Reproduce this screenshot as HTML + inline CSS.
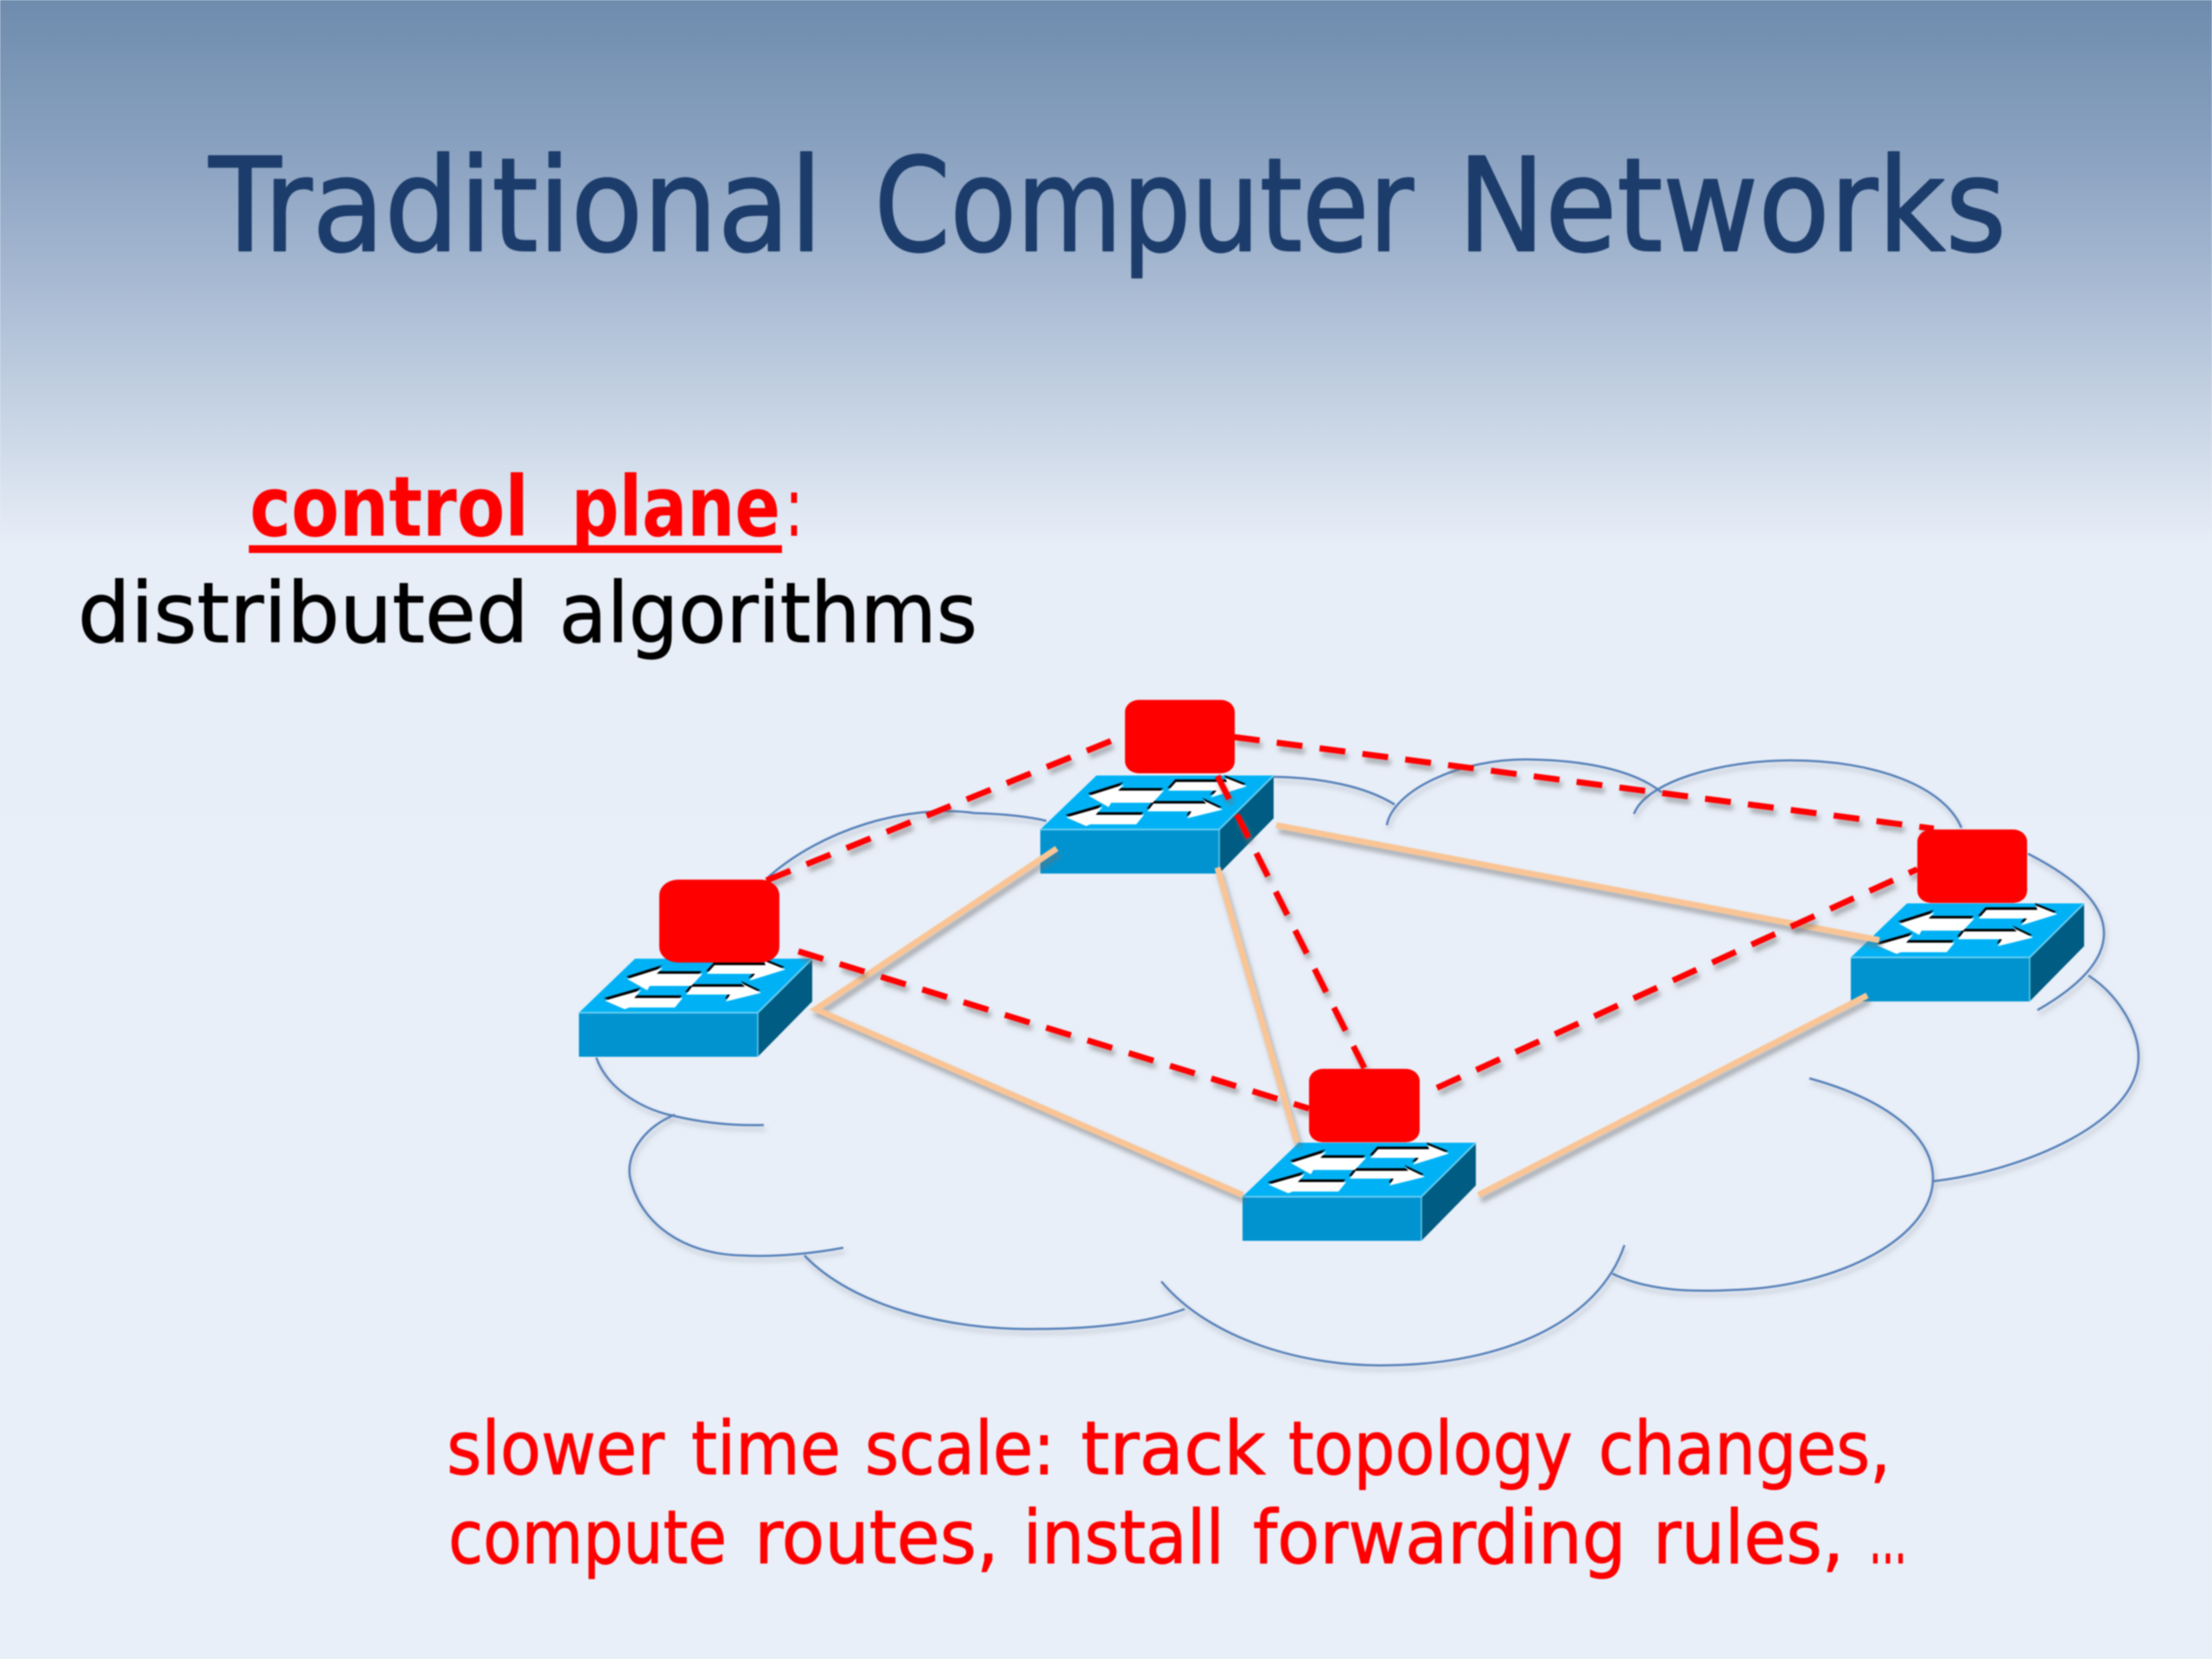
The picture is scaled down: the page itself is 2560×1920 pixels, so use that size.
<!DOCTYPE html>
<html>
<head>
<meta charset="utf-8">
<title>Traditional Computer Networks</title>
<style>
html,body{margin:0;padding:0;background:#e9eff8;}
svg{display:block;filter:blur(0.7px);}
text{font-family:"DejaVu Sans","Liberation Sans",sans-serif;stroke-linejoin:round;}
.t{font-size:150px;fill:#1c3c6b;stroke:#1c3c6b;stroke-width:2;}
.b{font-size:96px;fill:#000;stroke:#000;stroke-width:1;}
.c{font-size:96px;font-weight:bold;fill:#ff0000;}
.r{font-size:86px;fill:#ff0000;stroke:#ff0000;stroke-width:1;}
</style>
</head>
<body>
<svg xmlns="http://www.w3.org/2000/svg" width="2560" height="1920" viewBox="0 0 2560 1920">
<defs>
<linearGradient id="bg" x1="0" y1="0" x2="0" y2="1920" gradientUnits="userSpaceOnUse">
<stop offset="0" stop-color="#6e8bad"/>
<stop offset="0.104" stop-color="#8ea5c3"/>
<stop offset="0.182" stop-color="#acbdd5"/>
<stop offset="0.26" stop-color="#cbd7e6"/>
<stop offset="0.33" stop-color="#e8eef8"/>
<stop offset="1" stop-color="#e9eff8"/>
</linearGradient>
<filter id="shc" x="-10%" y="-10%" width="120%" height="120%"><feDropShadow dx="2" dy="5" stdDeviation="3" flood-color="#6b7480" flood-opacity="0.4"/></filter>
<filter id="shl" x="-10%" y="-10%" width="120%" height="120%"><feDropShadow dx="3" dy="6" stdDeviation="3" flood-color="#707070" flood-opacity="0.55"/></filter>
<g id="sw">
<polygon points="0,0 65,-62.5 270,-62.5 207,0" fill="#00b2f5"/>
<polygon points="0,0 207,0 207,51 0,51" fill="#0093d0"/>
<polygon points="207,0 270,-62.5 270,-13 207,51" fill="#005c82"/>
<polyline points="0,0 207,0 270,-62.5" fill="none" stroke="#66cdf2" stroke-width="2"/>
<polyline points="207,0 207,51" fill="none" stroke="#66cdf2" stroke-width="1.5"/>
<g fill="#000" transform="translate(-1,-3)">
<polygon points="56,-39 97,-52 90,-45 143,-45 130,-31 82,-31 79,-26"/>
<polygon points="157,-55 216,-55 214,-60 239,-50 197,-37 204,-45 148,-45"/>
<polygon points="30,-14 72,-26 64,-17 120,-17 111,-6 58,-6 53,-4"/>
<polygon points="131,-30 192,-30 188,-34 211,-23 170,-13 175,-21 124,-21"/>
</g>
<g fill="#fff">
<polygon points="56,-39 97,-52 90,-45 143,-45 130,-31 82,-31 79,-26"/>
<polygon points="157,-55 216,-55 214,-60 239,-50 197,-37 204,-45 148,-45"/>
<polygon points="30,-14 72,-26 64,-17 120,-17 111,-6 58,-6 53,-4"/>
<polygon points="131,-30 192,-30 188,-34 211,-23 170,-13 175,-21 124,-21"/>
</g>
</g>
</defs>
<rect width="2560" height="1920" fill="url(#bg)"/>

<text class="t" x="242" y="290" textLength="710" lengthAdjust="spacingAndGlyphs">Traditional</text>
<text class="t" x="1012" y="290" textLength="624" lengthAdjust="spacingAndGlyphs">Computer</text>
<text class="t" x="1687" y="290" textLength="635" lengthAdjust="spacingAndGlyphs">Networks</text>

<text class="c" x="289" y="620" textLength="323" lengthAdjust="spacingAndGlyphs">control</text>
<text class="c" x="661" y="620" textLength="242" lengthAdjust="spacingAndGlyphs">plane</text>
<text x="908" y="620" font-size="96" fill="#ff0000" textLength="22" lengthAdjust="spacingAndGlyphs">:</text>
<rect x="288" y="631" width="617" height="9" fill="#ff0000"/>
<text class="b" x="90" y="743" textLength="522" lengthAdjust="spacingAndGlyphs">distributed</text>
<text class="b" x="647" y="743" textLength="484" lengthAdjust="spacingAndGlyphs">algorithms</text>

<text class="r" x="517" y="1706" textLength="252" lengthAdjust="spacingAndGlyphs">slower</text>
<text class="r" x="800" y="1706" textLength="173" lengthAdjust="spacingAndGlyphs">time</text>
<text class="r" x="1001" y="1706" textLength="220" lengthAdjust="spacingAndGlyphs">scale:</text>
<text class="r" x="1251" y="1706" textLength="214" lengthAdjust="spacingAndGlyphs">track</text>
<text class="r" x="1491" y="1706" textLength="329" lengthAdjust="spacingAndGlyphs">topology</text>
<text class="r" x="1850" y="1706" textLength="338" lengthAdjust="spacingAndGlyphs">changes,</text>

<text class="r" x="519" y="1809" textLength="322" lengthAdjust="spacingAndGlyphs">compute</text>
<text class="r" x="873" y="1809" textLength="283" lengthAdjust="spacingAndGlyphs">routes,</text>
<text class="r" x="1184" y="1809" textLength="233" lengthAdjust="spacingAndGlyphs">install</text>
<text class="r" x="1450" y="1809" textLength="432" lengthAdjust="spacingAndGlyphs">forwarding</text>
<text class="r" x="1913" y="1809" textLength="221" lengthAdjust="spacingAndGlyphs">rules,</text>
<text class="r" x="2163" y="1809" textLength="44" lengthAdjust="spacingAndGlyphs">…</text>

<g fill="none" stroke="#5580b8" stroke-width="2.5" filter="url(#shc)">
<path d="M887,1017 C950,960 1050,930 1128,941 C1160,942 1190,945 1211,950"/>
<path d="M690,1224 C705,1265 750,1285 778,1291 C815,1300 850,1303 884,1302"/>
<path d="M781,1290 C745,1305 725,1335 729,1362 C740,1415 790,1452 860,1453 C900,1455 945,1450 976,1444"/>
<path d="M931,1453 C985,1510 1095,1540 1200,1538 C1270,1538 1330,1530 1371,1515"/>
<path d="M1344,1483 C1400,1550 1510,1583 1610,1580 C1740,1578 1850,1530 1880,1441"/>
<path d="M1866,1474 C1910,1495 1960,1495 2003,1493 C2130,1490 2240,1430 2237,1361 C2235,1310 2175,1270 2094,1248"/>
<path d="M2238,1367 C2340,1355 2475,1300 2475,1223 C2475,1190 2450,1150 2417,1129"/>
<path d="M2347,988 C2400,1015 2435,1045 2435,1080 C2435,1115 2400,1145 2358,1169"/>
<path d="M1474,899 C1530,900 1580,910 1614,931"/>
<path d="M1605,955 C1612,915 1690,877 1772,879 C1830,880 1890,890 1923,917"/>
<path d="M1891,942 C1905,905 1990,880 2073,880 C2170,880 2250,910 2270,958"/>
</g>

<use href="#sw" x="670" y="1172"/>
<use href="#sw" x="1204" y="960"/>
<use href="#sw" x="1438" y="1385"/>
<use href="#sw" x="2142" y="1108"/>

<g fill="none" stroke="#f9c596" stroke-width="7" stroke-linejoin="miter" filter="url(#shl)">
<polyline points="1223,982 944,1168 1438,1383"/>
<line x1="1409" y1="1004" x2="1501" y2="1322"/>
<line x1="1477" y1="955" x2="2175" y2="1088"/>
<line x1="1711" y1="1383" x2="2161" y2="1152"/>
</g>

<g fill="none" stroke="#ff0000" stroke-width="7" stroke-dasharray="30 20" filter="url(#shl)">
<line x1="887" y1="1019" x2="1302" y2="851"/>
<line x1="1428" y1="853" x2="2238" y2="959"/>
<line x1="1409" y1="898" x2="1579" y2="1236"/>
<line x1="924" y1="1101" x2="1515" y2="1283"/>
<line x1="1663" y1="1259" x2="2219" y2="1006"/>
</g>

<g fill="#ff0000">
<rect x="763" y="1018" width="139" height="96" rx="22" ry="18"/>
<rect x="1302" y="810" width="127" height="85" rx="16" ry="14"/>
<rect x="1515" y="1237" width="128" height="85" rx="16" ry="14"/>
<rect x="2219" y="960" width="127" height="85" rx="16" ry="14"/>
</g>
</svg>
</body>
</html>
